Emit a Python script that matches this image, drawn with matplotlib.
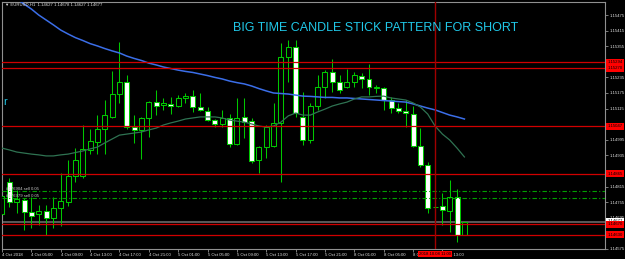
import matplotlib
matplotlib.use("Agg")
import matplotlib.pyplot as plt
from matplotlib.transforms import blended_transform_factory
import numpy as np

plt.rcParams["font.family"] = ["Liberation Sans", "DejaVu Sans"]

# EURUSD H1 candles
opens = [1.14710, 1.14833, 1.14756, 1.14763, 1.14717, 1.14710, 1.14721, 1.14694,
         1.14733, 1.14756, 1.14856, 1.14856, 1.14956, 1.14987, 1.15037, 1.15083,
         1.15171, 1.15217, 1.15044, 1.15033, 1.15079, 1.15140, 1.15129, 1.15133,
         1.15125, 1.15156, 1.15163, 1.15121, 1.15106, 1.15071, 1.15056, 1.15079,
         1.14979, 1.15083, 1.15067, 1.14917, 1.14967, 1.14971, 1.15060, 1.15313,
         1.15352, 1.15083, 1.14994, 1.15125, 1.15198, 1.15256, 1.15217, 1.15198,
         1.15217, 1.15240, 1.15229, 1.15196, 1.15194, 1.15148, 1.15117, 1.15106,
         1.15094, 1.14971, 1.14898, 1.14737, 1.14740, 1.14721, 1.14775, 1.14627]
highs = [1.14810, 1.14848, 1.14802, 1.14771, 1.14775, 1.14744, 1.14744, 1.14775,
         1.14867, 1.14917, 1.14963, 1.15052, 1.15037, 1.15090, 1.15148, 1.15260,
         1.15371, 1.15244, 1.15090, 1.15083, 1.15144, 1.15187, 1.15156, 1.15160,
         1.15167, 1.15175, 1.15187, 1.15175, 1.15121, 1.15075, 1.15110, 1.15094,
         1.15156, 1.15156, 1.15079, 1.14971, 1.15052, 1.15137, 1.15367, 1.15379,
         1.15379, 1.15179, 1.15137, 1.15244, 1.15263, 1.15306, 1.15244, 1.15267,
         1.15256, 1.15252, 1.15287, 1.15206, 1.15198, 1.15160, 1.15137, 1.15148,
         1.15125, 1.15040, 1.14910, 1.14740, 1.14790, 1.14840, 1.14806, 1.14678]
lows = [1.14694, 1.14737, 1.14713, 1.14648, 1.14656, 1.14667, 1.14629, 1.14656,
        1.14663, 1.14740, 1.14833, 1.14848, 1.14940, 1.14940, 1.14940, 1.15079,
        1.15137, 1.15037, 1.14983, 1.14921, 1.15006, 1.15090, 1.15110, 1.15094,
        1.15121, 1.15137, 1.15102, 1.15106, 1.15067, 1.15044, 1.15044, 1.14967,
        1.14975, 1.15002, 1.14906, 1.14867, 1.14925, 1.14967, 1.14833, 1.15217,
        1.15083, 1.14975, 1.14983, 1.15110, 1.15156, 1.15179, 1.15175, 1.15194,
        1.15198, 1.15194, 1.15167, 1.15175, 1.15110, 1.15098, 1.15098, 1.15044,
        1.14967, 1.14890, 1.14713, 1.14733, 1.14667, 1.14640, 1.14602, 1.14627]
closes = [1.14779, 1.14756, 1.14767, 1.14717, 1.14702, 1.14721, 1.14694, 1.14733,
          1.14760, 1.14856, 1.14917, 1.14960, 1.14990, 1.15037, 1.15090, 1.15171,
          1.15217, 1.15044, 1.15033, 1.15079, 1.15140, 1.15125, 1.15137, 1.15125,
          1.15156, 1.15163, 1.15121, 1.15110, 1.15071, 1.15056, 1.15079, 1.14979,
          1.15079, 1.15063, 1.14913, 1.14967, 1.15044, 1.15060, 1.15313, 1.15352,
          1.15098, 1.14994, 1.15125, 1.15198, 1.15256, 1.15217, 1.15187, 1.15217,
          1.15244, 1.15229, 1.15198, 1.15198, 1.15148, 1.15117, 1.15106, 1.15098,
          1.14971, 1.14898, 1.14733, 1.14737, 1.14725, 1.14775, 1.14627, 1.14677]

ma_blue = [1.15579, 1.15556, 1.15537, 1.15517, 1.15498, 1.15475, 1.15456, 1.15437,
           1.15417, 1.15402, 1.15388, 1.15377, 1.15365, 1.15356, 1.15346, 1.15337,
           1.15329, 1.15317, 1.15308, 1.15300, 1.15290, 1.15283, 1.15275, 1.15269,
           1.15263, 1.15258, 1.15254, 1.15248, 1.15242, 1.15235, 1.15229, 1.15221,
           1.15215, 1.15210, 1.15202, 1.15192, 1.15183, 1.15175, 1.15173, 1.15171,
           1.15167, 1.15163, 1.15162, 1.15160, 1.15158, 1.15158, 1.15156, 1.15156,
           1.15154, 1.15152, 1.15150, 1.15148, 1.15146, 1.15144, 1.15142, 1.15140,
           1.15133, 1.15125, 1.15117, 1.15110, 1.15100, 1.15090, 1.15083, 1.15075]
ma_green = [1.14963, 1.14956, 1.14948, 1.14944, 1.14940, 1.14937, 1.14933, 1.14933,
            1.14937, 1.14940, 1.14946, 1.14952, 1.14960, 1.14967, 1.14983, 1.14998,
            1.15013, 1.15017, 1.15021, 1.15025, 1.15033, 1.15040, 1.15052, 1.15060,
            1.15067, 1.15075, 1.15079, 1.15083, 1.15083, 1.15083, 1.15079, 1.15071,
            1.15067, 1.15063, 1.15056, 1.15048, 1.15044, 1.15048, 1.15063, 1.15087,
            1.15098, 1.15090, 1.15090, 1.15102, 1.15113, 1.15125, 1.15133, 1.15140,
            1.15152, 1.15160, 1.15160, 1.15162, 1.15163, 1.15156, 1.15152, 1.15148,
            1.15137, 1.15121, 1.15094, 1.15048, 1.15017, 1.14994, 1.14963, 1.14929]

red_levels = [1.15294, 1.15270, 1.15047, 1.14865, 1.14670, 1.14630]
sell_levels = [1.14798, 1.14770]
sell_texts = ["#176904 sell 0.05", "#176979 sell 0.05"]
bid = 1.14677

# price scale labels (the ones hidden under the red tags are left blank)
ytick_vals = [1.14575, 1.14635, 1.14695, 1.14755, 1.14815, 1.14875, 1.14935, 1.14995,
              1.15055, 1.15115, 1.15175, 1.15235, 1.15295, 1.15355, 1.15415, 1.15475]
ytick_labels = ["1.14575", "", "1.14695", "1.14755", "1.14815", "", "1.14935", "1.14995",
                "", "1.15115", "1.15175", "1.15235", "", "1.15355", "1.15415", "1.15475"]
xtick_bars = [0, 4, 8, 12, 16, 20, 24, 28, 32, 36, 40, 44, 48, 52, 56, 60]
xtick_labels = ["4 Oct 2018", "4 Oct 05:00", "4 Oct 09:00", "4 Oct 13:00", "4 Oct 17:00",
                "4 Oct 21:00", "5 Oct 01:00", "5 Oct 05:00", "5 Oct 09:00", "5 Oct 13:00",
                "5 Oct 17:00", "5 Oct 21:00", "8 Oct 01:00", "8 Oct 05:00", "8 Oct 09:00",
                "8 Oct 13:00"]
vline_bar = 59

green = "#00c800"
red = "#d00000"
cyan = "#20c8e8"
small = 3.1

fig = plt.figure(figsize=(6.25, 2.59), dpi=100, facecolor="black")
ax = fig.add_axes([2 / 625, 10 / 259, 603 / 625, 247 / 259], facecolor="black")
ax.set_xlim(0, 603 / 7.34)
ax.set_ylim(1.14575, 1.15525)

o = np.array(opens)
c = np.array(closes)
x = np.arange(len(o))
up = c >= o
ax.vlines(x, lows, highs, color=green, lw=0.75, zorder=2)
ax.bar(x, np.maximum(np.abs(c - o), 0.00001), bottom=np.minimum(o, c), width=0.68,
       color=np.where(up, "black", "white"), edgecolor=green, linewidth=0.75, zorder=3)

ax.plot(x, ma_blue, color="#3b6ee8", lw=1.1, zorder=4)
ax.plot(x, ma_green, color="#2f7352", lw=0.9, zorder=4)

blend = blended_transform_factory(ax.transAxes, ax.transData)
ax.axhline(bid, color="#5a5a5a", lw=1.4, zorder=1)
ax.text(1.004, bid + 0.00006, "1.14677", transform=blend, ha="left", va="center",
        fontsize=small, color="black", clip_on=False, zorder=9,
        bbox=dict(boxstyle="square,pad=0.3", fc="white", ec="none"))
for lv in red_levels:
    ax.axhline(lv, color=red, lw=0.9, zorder=5)
    ax.text(1.004, lv, f"{lv:.5f}", transform=blend, ha="left", va="center",
            fontsize=small, color="black", clip_on=False, zorder=10,
            bbox=dict(boxstyle="square,pad=0.3", fc="#ff0000", ec="none"))
for lv, t in zip(sell_levels, sell_texts):
    ax.axhline(lv, color="#00a000", lw=0.8, dashes=(4, 2, 1, 2), zorder=5)
    ax.text(0.006, lv + 0.00002, t, transform=blend, ha="left", va="bottom",
            fontsize=small, color="#c8c8c8", zorder=6)
ax.axvline(vline_bar, color="#a00000", lw=1.0, zorder=5)

for s in ax.spines.values():
    s.set_color("#909090")
    s.set_linewidth(0.8)
ax.yaxis.tick_right()
ax.set_yticks(ytick_vals)
ax.set_yticklabels(ytick_labels)
ax.set_xticks(xtick_bars)
ax.set_xticklabels(xtick_labels, ha="left")
ax.tick_params(axis="both", direction="out", length=2.2, width=0.6, colors="#909090",
               labelcolor="#e0e0e0", labelsize=small, pad=1.0)

fig.text(435 / 625, 5 / 259, "2018.10.08 11:00", ha="center", va="center", fontsize=small,
         color="black", bbox=dict(boxstyle="square,pad=0.3", fc="#ff0000", ec="none"))
fig.text(5 / 625, 1 - 5 / 259, "\u25bc EURUSD,H1  1.14627 1.14678 1.14627 1.14677",
         ha="left", va="center", fontsize=small, color="#e0e0e0")
fig.text(233 / 625, 1 - 28 / 259, "BIG TIME CANDLE STICK PATTERN FOR SHORT", ha="left",
         va="center", fontsize=9, color=cyan)
fig.text(3 / 625, 1 - 102 / 259, "r", ha="left", va="center", fontsize=8, color=cyan)

fig.savefig("out.png", dpi=100, facecolor="black")
